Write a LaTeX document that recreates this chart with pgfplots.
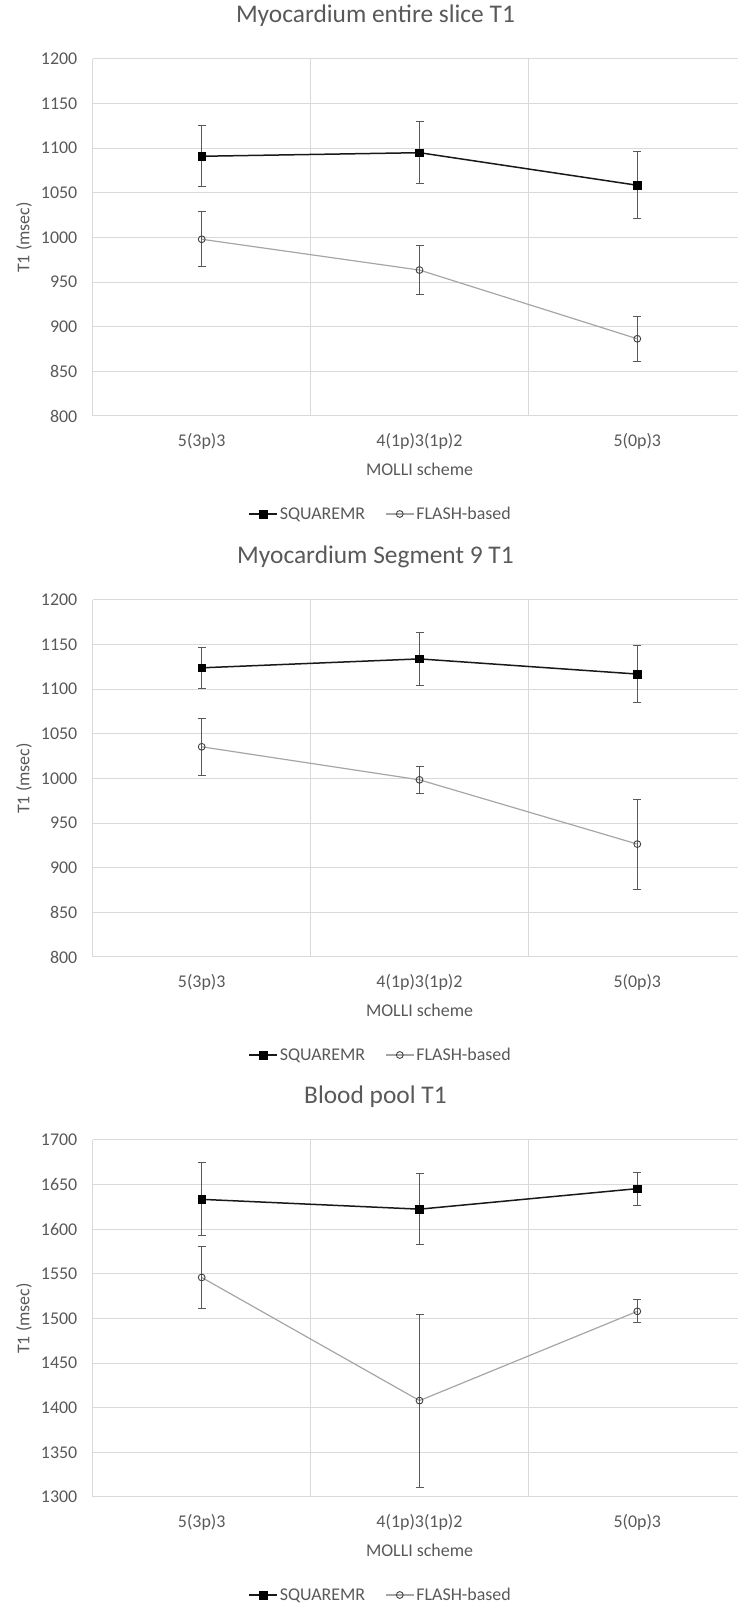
\documentclass[border=0pt]{standalone}
\usepackage{fontspec}
\setmainfont{Carlito}
\usepackage{pgfplots}
\pgfplotsset{compat=1.18}
\definecolor{txt}{HTML}{595959}
\definecolor{gridc}{HTML}{D9D9D9}
\definecolor{errc}{HTML}{595959}
\definecolor{flashline}{HTML}{A6A6A6}
\definecolor{flashmark}{HTML}{404040}
\pgfplotsset{
  panel/.style={
    anchor=north west,
    scale only axis,
    x=217.8bp, y=0.8925bp,
    xmin=-0.5, xmax=2.463,
    xtick={0,1,2}, xticklabels={5(3p)3,4(1p)3(1p)2,5(0p)3},
    minor xtick={-0.5,0.5,1.5},
    xminorgrids=true, ymajorgrids=true, xmajorgrids=false,
    grid style={gridc, line width=1bp},
    minor grid style={gridc, line width=1bp},
    axis line style={draw=none},
    major tick length=0pt, minor tick length=0pt,
    tick style={draw=none},
    ticklabel style={font=\fontsize{18}{20}\selectfont, text=txt},
    /pgf/number format/assume math mode=true,
    /pgf/number format/1000 sep={},
    yticklabel style={anchor=east, xshift=-12bp},
    xticklabel style={anchor=center, yshift=-25bp},
    ylabel={T1 (msec)},
    ylabel style={at={(axis description cs:-0.1067,0.5)}, anchor=center, font=\fontsize{18}{20}\selectfont, text=txt},
    xlabel={MOLLI scheme},
    xlabel style={at={(axis description cs:0.5063,0)}, anchor=center, yshift=-53bp, font=\fontsize{18}{20}\selectfont, text=txt},
    title style={at={(axis description cs:0.438,1)}, anchor=center, yshift=37bp, font=\fontsize{25.5}{28}\selectfont, text=txt},
    legend style={at={(axis description cs:0.4459,0)}, anchor=center, yshift=-98bp, draw=none, fill=none,
      font=\fontsize{18}{20}\selectfont, text=txt, legend columns=2,
      nodes={inner xsep=2bp},
      /tikz/every even column/.append style={column sep=18bp}},
    legend image code/.code={\draw[mark repeat=2,mark phase=2] plot coordinates {(0bp,0bp) (14bp,0bp) (28bp,0bp)};},
    clip=false,
  },
  sq/.style={black!90, line width=1.5bp, mark=square*, mark size=3.8bp,
    mark options={solid, fill=black, draw=black, line width=0.5bp},
    error bars/.cd, y dir=both, y explicit,
    error bar style={errc, line width=1bp},
    error mark options={errc, line width=1bp, mark size=4bp, rotate=90}},
  fl/.style={flashline, line width=1.2bp, mark=o, mark size=3.4bp,
    mark options={solid, fill=white, draw=flashmark, line width=0.9bp},
    error bars/.cd, y dir=both, y explicit,
    error bar style={errc, line width=1bp},
    error mark options={errc, line width=1bp, mark size=4bp, rotate=90}},
}
\begin{document}
\begin{tikzpicture}
\path[use as bounding box] (0,0) rectangle (739bp,1609bp);

\begin{axis}[panel, at={(92.8bp,1550bp)}, ymin=800, ymax=1200, ytick={800,850,...,1200},
  title={Myocardium entire slice T1}]
\addplot[sq] table[x=x, y=y, y error=e] {
x y e
0 1091 34
1 1095 35
2 1058.5 37.5
};
\addplot[fl] table[x=x, y=y, y error=e] {
x y e
0 998 31
1 963.5 27
2 886.5 25
};
\legend{SQUAREMR, FLASH-based}
\end{axis}

\begin{axis}[panel, at={(92.8bp,1009bp)}, ymin=800, ymax=1200, ytick={800,850,...,1200},
  title={Myocardium Segment 9 T1}]
\addplot[sq] table[x=x, y=y, y error=e] {
x y e
0 1124 23
1 1134 30
2 1117 31.5
};
\addplot[fl] table[x=x, y=y, y error=e] {
x y e
0 1035.5 32
1 998.5 15
2 926.5 50.5
};
\legend{SQUAREMR, FLASH-based}
\end{axis}

\begin{axis}[panel, at={(92.8bp,469bp)}, ymin=1300, ymax=1700, ytick={1300,1350,...,1700},
  title={Blood pool T1}]
\addplot[sq] table[x=x, y=y, y error=e] {
x y e
0 1633.5 41
1 1622.5 40
2 1645.5 18.5
};
\addplot[fl] table[x=x, y=y, y error=e] {
x y e
0 1546 35
1 1408 97
2 1508 13
};
\legend{SQUAREMR, FLASH-based}
\end{axis}
\end{tikzpicture}
\end{document}
